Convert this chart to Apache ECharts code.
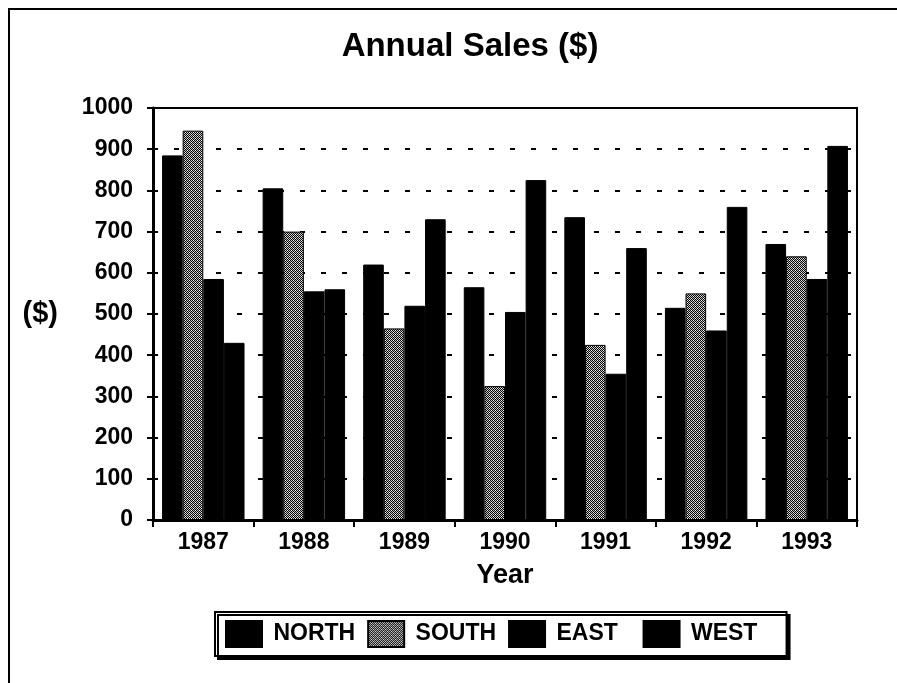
<!DOCTYPE html>
<html>
<head>
<meta charset="utf-8">
<script src="https://cdn.jsdelivr.net/npm/echarts@6/dist/echarts.min.js"></script>
<style>
  html, body { margin: 0; padding: 0; background: #fff; }
  #chart { width: 897px; height: 683px; }
</style>
</head>
<body>
<div id="chart"></div>
<script>
// data
var years = ['1987', '1988', '1989', '1990', '1991', '1992', '1993'];
var north = [885, 805, 620, 565, 735, 515, 670];
var south = [945, 700, 465, 325, 425, 550, 640];
var east = [585, 555, 520, 505, 355, 460, 585];
var west = [430, 560, 730, 825, 660, 760, 908];
var yTicks = [0, 100, 200, 300, 400, 500, 600, 700, 800, 900, 1000];

var FONT = '"Liberation Sans", Arial, sans-serif';

// dotted fill for SOUTH
function dotPattern () {
  var c = document.createElement('canvas');
  c.width = 4;
  c.height = 4;
  var ctx = c.getContext('2d');
  ctx.fillStyle = '#c4c4c4';
  ctx.fillRect(0, 0, 4, 4);
  ctx.fillStyle = '#000';
  ctx.fillRect(0, 0, 1, 1);
  ctx.fillRect(2, 0, 1, 1);
  ctx.fillRect(1, 1, 1, 1);
  ctx.fillRect(3, 1, 1, 1);
  ctx.fillRect(0, 2, 1, 1);
  ctx.fillRect(2, 2, 1, 1);
  ctx.fillRect(1, 3, 1, 1);
  ctx.fillRect(3, 3, 1, 1);
  ctx.fillStyle = '#fff';
  ctx.fillRect(1, 0, 1, 1);
  ctx.fillRect(3, 2, 1, 1);
  return { image: c, repeat: 'repeat' };
}

function barSeries (name, data, color) {
  return {
    name: name,
    type: 'bar',
    data: data,
    barGap: '0%',
    barCategoryGap: '18%',
    itemStyle: {
      color: color,
      borderColor: '#000',
      borderWidth: 1
    }
  };
}

// trailing blanks so the legend entries sit where they do in the original
var legendPad = { NORTH: 0, SOUTH: 0, EAST: 2, WEST: 3 };

var chart = echarts.init(document.getElementById('chart'));
chart.setOption({
  animation: false,
  textStyle: { fontFamily: FONT },
  title: {
    text: 'Annual Sales ($)',
    left: 465,
    textAlign: 'center',
    top: 25,
    textStyle: { fontFamily: FONT, fontSize: 33, fontWeight: 'bold', color: '#000' }
  },
  graphic: [{
    type: 'rect',
    shape: { x: 9, y: 9, width: 900, height: 700 },
    style: { fill: 'none', stroke: '#000', lineWidth: 2 },
    silent: true
  }],
  legend: {
    left: 215,
    top: 612,
    icon: 'rect',
    itemWidth: 36,
    itemHeight: 26,
    itemGap: 12,
    padding: [8, 10, 8, 10],
    borderColor: '#000',
    borderWidth: 2,
    backgroundColor: '#fff',
    shadowColor: '#000',
    shadowBlur: 0,
    shadowOffsetX: 3,
    shadowOffsetY: 3,
    formatter: function (name) {
      return '\u00a0' + name + new Array(legendPad[name] + 1).join('\u00a0');
    },
    textStyle: { fontFamily: FONT, fontSize: 23, fontWeight: 'bold', color: '#000' },
    data: ['NORTH', 'SOUTH', 'EAST', 'WEST']
  },
  grid: {
    left: 153,
    right: 40,
    top: 108,
    bottom: 163,
    show: true,
    borderColor: '#000',
    borderWidth: 2
  },
  xAxis: {
    type: 'category',
    data: years,
    name: 'Year',
    nameLocation: 'middle',
    nameGap: 42,
    nameTextStyle: { fontFamily: FONT, fontSize: 27, fontWeight: 'bold', color: '#000' },
    axisLine: { lineStyle: { color: '#000', width: 3 } },
    axisTick: { show: true, length: 7, lineStyle: { color: '#000', width: 2 } },
    axisLabel: { margin: 11, fontFamily: FONT, fontSize: 23, fontWeight: 'bold', color: '#000' }
  },
  yAxis: {
    type: 'value',
    min: yTicks[0],
    max: yTicks[yTicks.length - 1],
    interval: 100,
    name: '($)',
    nameLocation: 'middle',
    nameRotate: 0,
    nameGap: 95,
    nameTextStyle: { fontFamily: FONT, fontSize: 29, fontWeight: 'bold', color: '#000' },
    axisLine: { show: true, lineStyle: { color: '#000', width: 3 } },
    axisTick: { show: true, length: 6, lineStyle: { color: '#000', width: 2 } },
    axisLabel: {
      margin: 20, fontFamily: FONT, fontSize: 23, fontWeight: 'bold', color: '#000',
      formatter: function (v) { return String(v); }
    },
    splitLine: { show: true, lineStyle: { color: '#000', width: 2, type: [5, 16] } }
  },
  series: [
    barSeries('NORTH', north, '#000'),
    barSeries('SOUTH', south, dotPattern()),
    barSeries('EAST', east, '#000'),
    barSeries('WEST', west, '#000')
  ]
});
</script>
</body>
</html>
